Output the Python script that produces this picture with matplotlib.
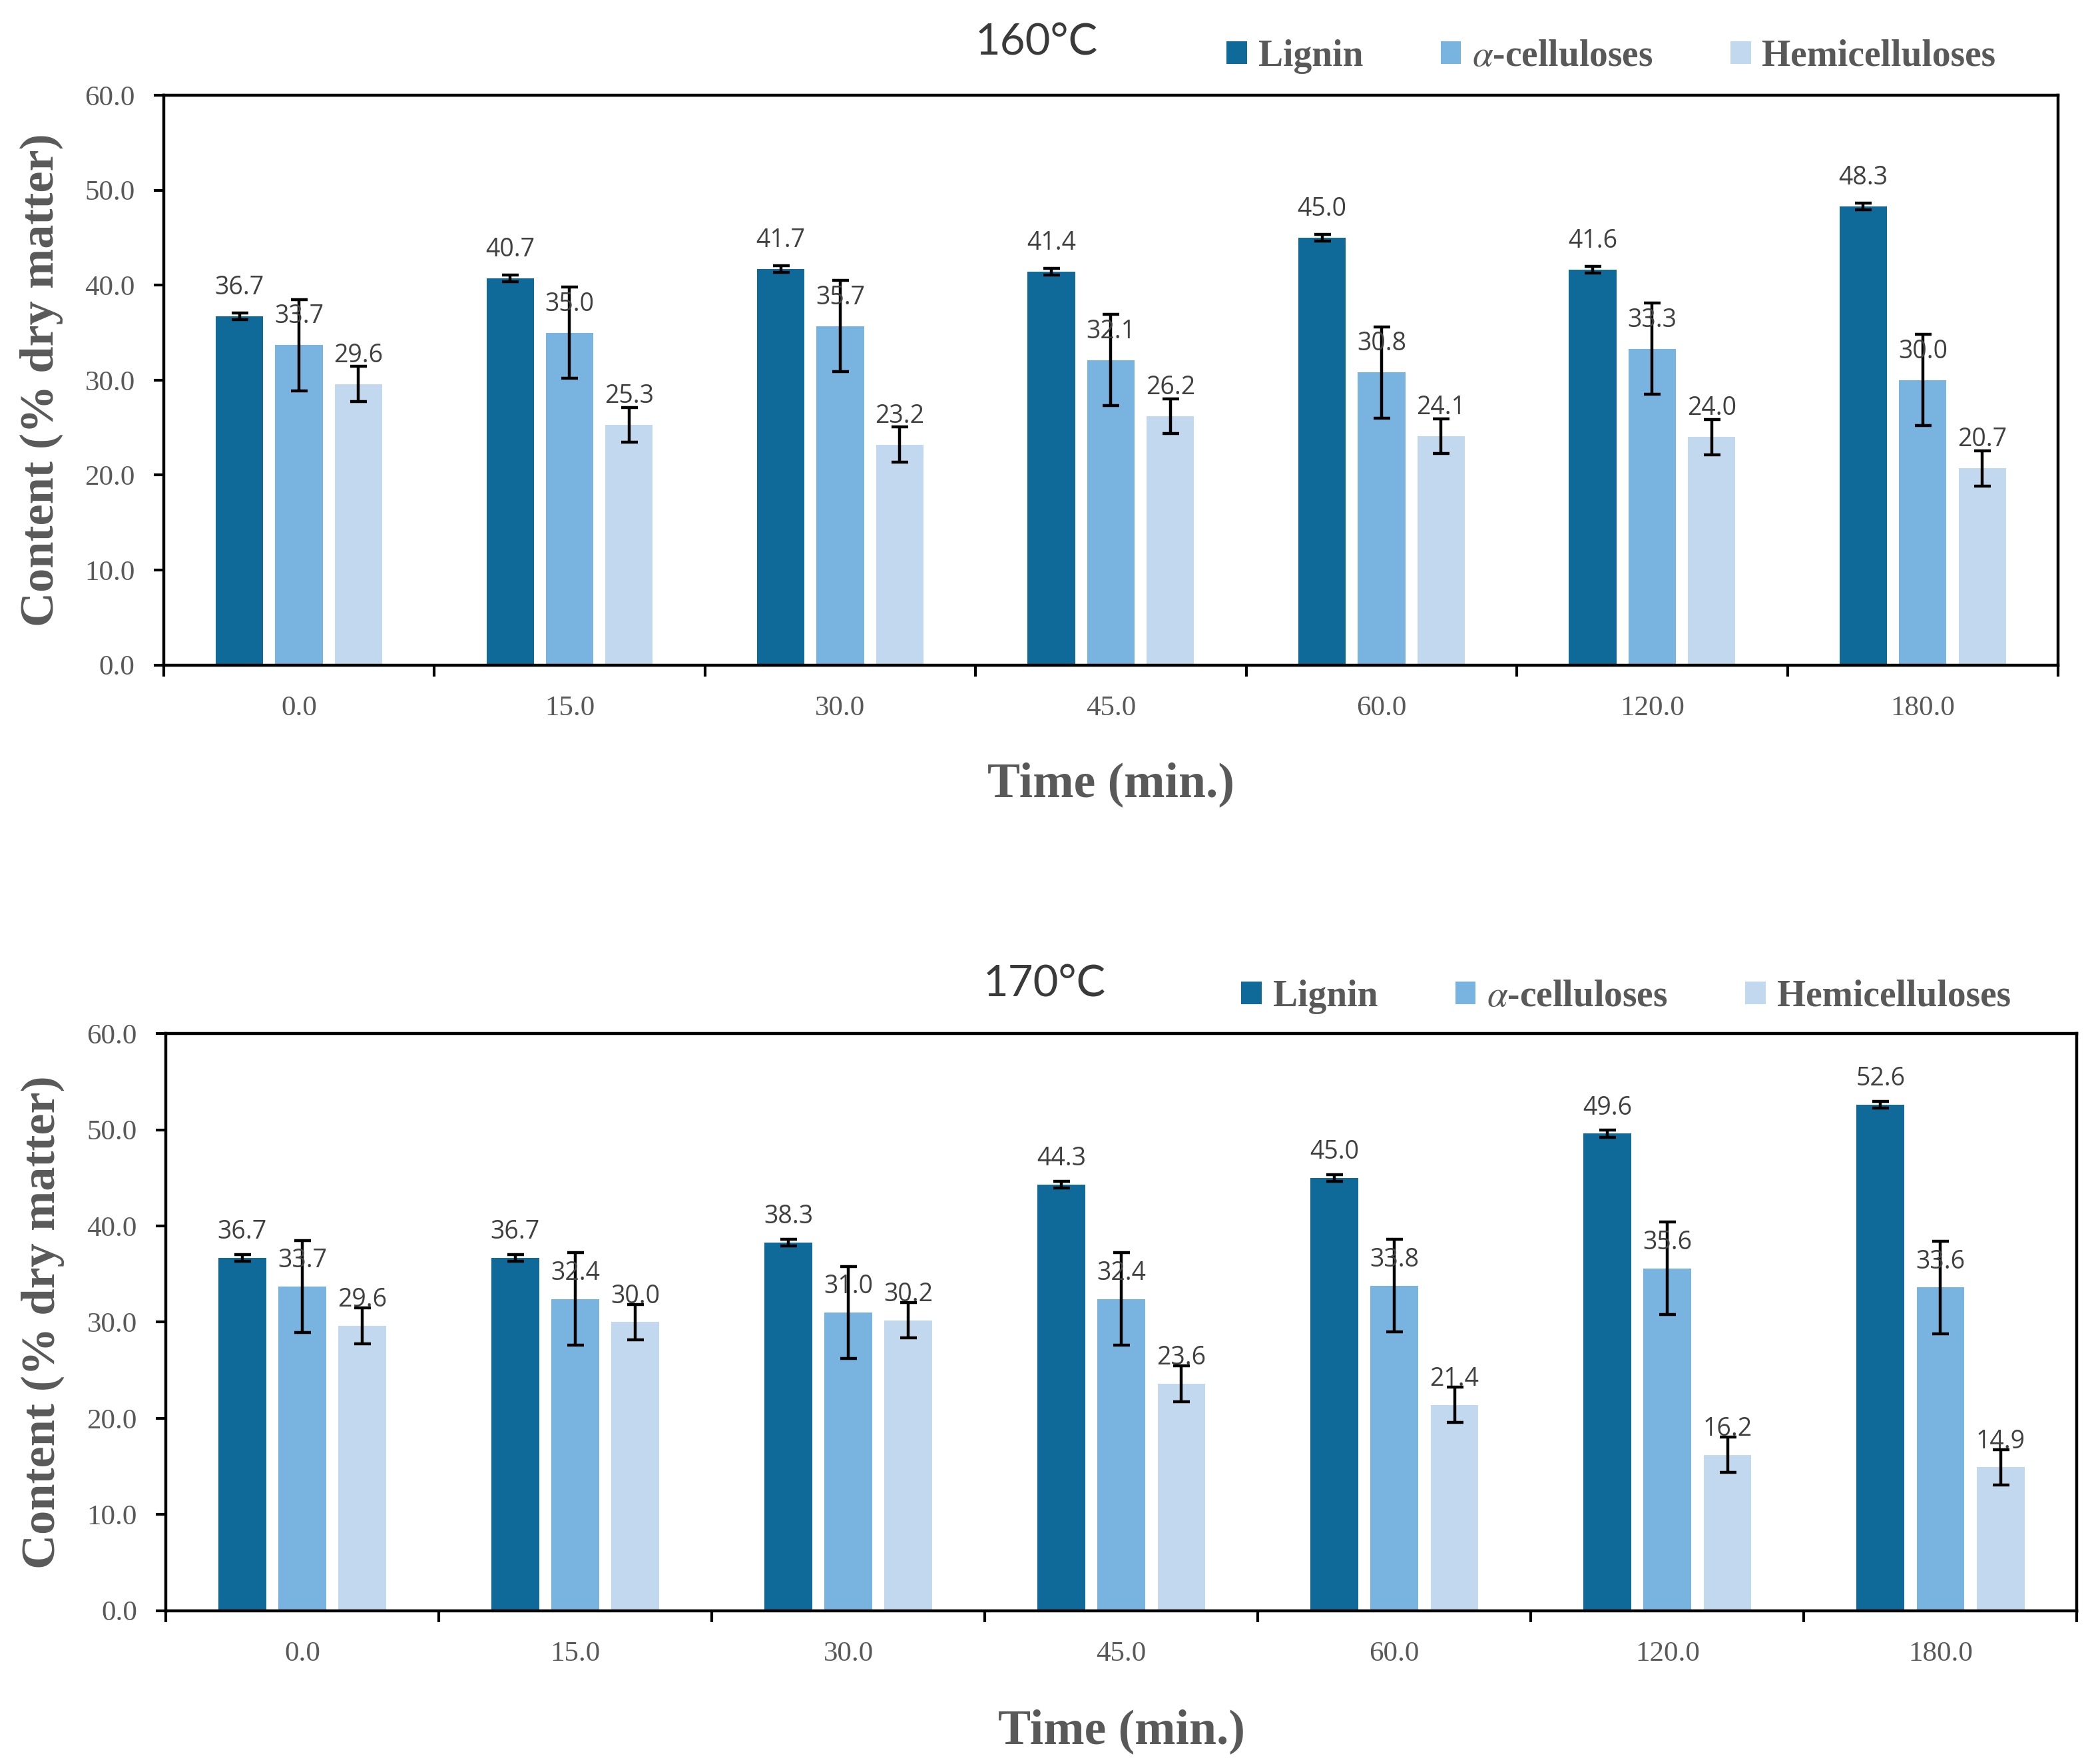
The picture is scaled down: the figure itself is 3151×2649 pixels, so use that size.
import matplotlib
matplotlib.use("Agg")
import matplotlib.pyplot as plt
import numpy as np

plt.rcParams["mathtext.fontset"] = "stix"

# time points (x categories)
times = ["0.0", "15.0", "30.0", "45.0", "60.0", "120.0", "180.0"]
series = ["Lignin", r"$\alpha$-celluloses", "Hemicelluloses"]
colors = ["#106A99", "#79B3E0", "#C2D8EE"]

# 160 C
lignin_160 = [36.7, 40.7, 41.7, 41.4, 45.0, 41.6, 48.3]
cellulose_160 = [33.7, 35.0, 35.7, 32.1, 30.8, 33.3, 30.0]
hemi_160 = [29.6, 25.3, 23.2, 26.2, 24.1, 24.0, 20.7]

# 170 C
lignin_170 = [36.7, 36.7, 38.3, 44.3, 45.0, 49.6, 52.6]
cellulose_170 = [33.7, 32.4, 31.0, 32.4, 33.8, 35.6, 33.6]
hemi_170 = [29.6, 30.0, 30.2, 23.6, 21.4, 16.2, 14.9]

# error bars
err_lignin = [0.35, 0.35, 0.35, 0.35, 0.35, 0.35, 0.35]
err_cellulose = [4.8, 4.8, 4.8, 4.8, 4.8, 4.8, 4.8]
err_hemi = [1.85, 1.85, 1.85, 1.85, 1.85, 1.85, 1.85]

GREY = "#595959"
SERIF = "Liberation Serif"
SANS = "Open Sans"


def draw_panel(fig, rect, title, data, title_xy, legend_xy, label_off):
    ax = fig.add_axes(rect)
    x = np.arange(len(times))
    width = 0.175
    step = 0.22
    errs = [err_lignin, err_cellulose, err_hemi]
    handles = []
    for i, (vals, col, err) in enumerate(zip(data, colors, errs)):
        xs = x + (i - 1) * step
        b = ax.bar(xs, vals, width, color=col, zorder=2)
        handles.append(b)
        ax.errorbar(xs, vals, yerr=err, fmt="none", ecolor="black",
                    elinewidth=3.2, capsize=9, capthick=3.2, zorder=3)
        for xv, v in zip(xs, vals):
            ax.annotate(f"{v:.1f}", (xv, v), xytext=(0, label_off),
                        textcoords="offset points", ha="center", va="center",
                        fontsize=27, color="#404040", family=SANS, zorder=4)

    ax.set_xlim(-0.5, len(times) - 0.5)
    ax.set_ylim(0, 60)
    ax.set_yticks(np.arange(0, 61, 10))
    ax.set_yticklabels([f"{t:.1f}" for t in np.arange(0, 61, 10)])
    ax.set_xticks(x)
    ax.set_xticklabels(times)
    ax.set_xticks(np.arange(-0.5, len(times), 1.0), minor=True)
    ax.tick_params(axis="x", which="major", length=0, pad=33,
                   labelsize=31, labelcolor=GREY)
    ax.tick_params(axis="x", which="minor", length=12, width=3,
                   direction="out")
    ax.tick_params(axis="y", which="major", length=11, width=3,
                   direction="out", pad=20, labelsize=31, labelcolor=GREY)
    for lab in ax.get_xticklabels() + ax.get_yticklabels():
        lab.set_family(SERIF)
    for sp in ax.spines.values():
        sp.set_linewidth(3.2)
        sp.set_color("black")

    ax.set_ylabel("Content (% dry matter)", fontsize=52, fontweight="bold",
                  color=GREY, family=SERIF)
    ax.yaxis.set_label_coords(-0.053, 0.5)
    ax.set_xlabel("Time (min.)", fontsize=53, fontweight="bold",
                  color=GREY, family=SERIF)
    ax.xaxis.set_label_coords(0.5, -0.17)

    fig.text(title_xy[0], title_xy[1], title, fontsize=47, color="#3a3a3a",
             ha="center", va="center", family="Lato", fontweight="normal")
    fig.legend(handles, series, loc="center", bbox_to_anchor=legend_xy,
               ncol=3, frameon=False, handlelength=0.55, handleheight=0.55,
               handletextpad=0.3, columnspacing=2.1,
               prop={"family": SERIF, "size": 40, "weight": "bold"},
               labelcolor=GREY)
    return ax


fig = plt.figure(figsize=(31.51, 26.49), dpi=100)

draw_panel(fig, [0.078, 0.623, 0.903, 0.323], "160\u00b0C",
           [lignin_160, cellulose_160, hemi_160],
           (0.494, 0.976), (0.768, 0.968), 31)
draw_panel(fig, [0.079, 0.087, 0.911, 0.327], "170\u00b0C",
           [lignin_170, cellulose_170, hemi_170],
           (0.498, 0.442), (0.775, 0.435), 28)

plt.savefig("out.png", dpi=100)
